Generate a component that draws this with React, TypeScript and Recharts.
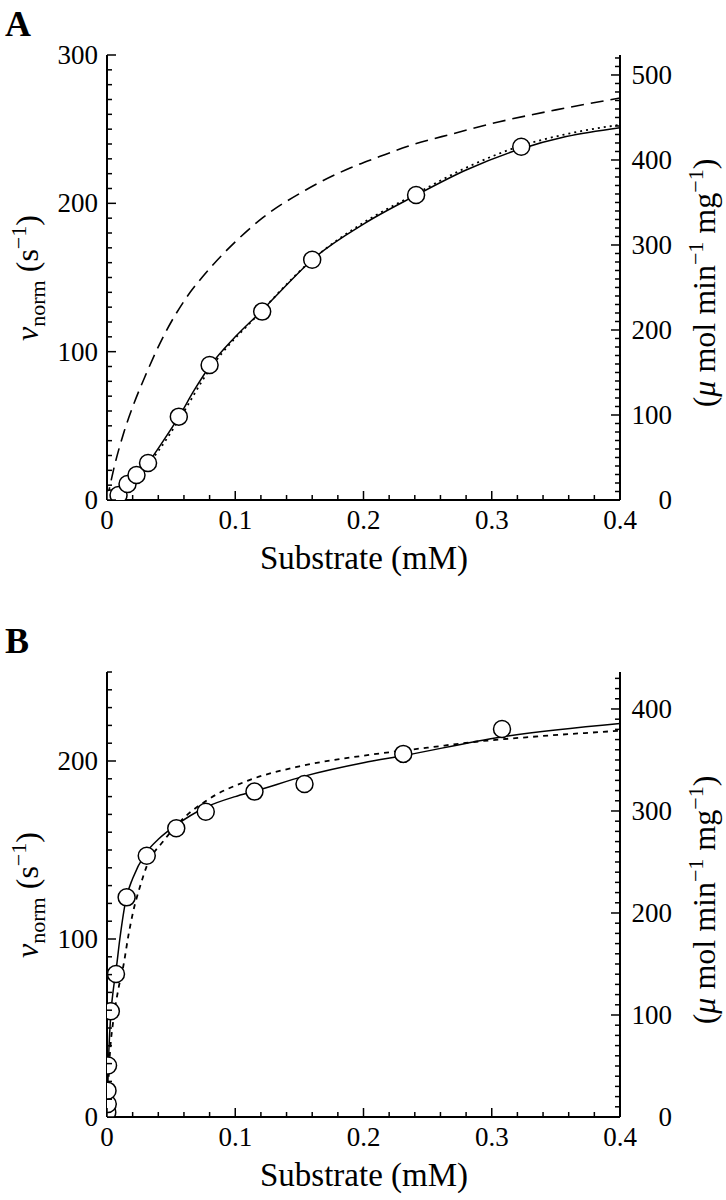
import React from 'react';
import {
  ComposedChart,
  Line,
  Scatter,
  XAxis,
  YAxis,
} from 'recharts';

// ---- panel A ----
const aPointX = [0.003, 0.009, 0.016, 0.023, 0.032, 0.056, 0.08, 0.121, 0.16, 0.241, 0.323];
const aPointY = [1, 3.4, 10.8, 16.9, 24.9, 56.2, 91, 127, 162, 205.6, 238.2];

const aSolidX = [0, 0.003, 0.009, 0.016, 0.024, 0.032, 0.044, 0.056, 0.068, 0.08, 0.1, 0.12, 0.14, 0.16, 0.2, 0.24, 0.28, 0.32, 0.358, 0.4];
const aSolidY = [0, 1, 3.5, 10, 17, 25, 40, 56, 74, 90, 110, 127, 145, 162, 186, 205, 222.5, 236, 245, 251];

const aDotX = [0, 0.02, 0.04, 0.056, 0.08, 0.12, 0.16, 0.2, 0.24, 0.28, 0.32, 0.36, 0.4];
const aDotY = [0, 13, 33, 54, 88, 127, 162, 187, 206, 224, 238, 247, 253];

const aDashX = [0, 0.005, 0.0133, 0.021, 0.03, 0.045, 0.06, 0.08, 0.1, 0.121, 0.155, 0.19, 0.2125, 0.2346, 0.27, 0.306, 0.35, 0.4];
const aDashY = [0, 20, 46, 65, 84, 112, 134, 156, 174, 190, 209, 224, 231.5, 238.5, 247, 255, 263, 271];

// ---- panel B ----
const bPointX = [0.0002, 0.0006, 0.0004, 0.0008, 0.003, 0.007, 0.0153, 0.031, 0.054, 0.077, 0.115, 0.154, 0.231, 0.308];
const bPointY = [2.6, 7.3, 14.8, 28.9, 59.4, 80.3, 123.4, 146.8, 162.2, 171.5, 182.8, 187.1, 204, 218];

const bSolidX = [0, 0.0003, 0.0008, 0.0015, 0.003, 0.005, 0.007, 0.01, 0.015, 0.02, 0.03, 0.04, 0.054, 0.077, 0.1, 0.115, 0.154, 0.2, 0.231, 0.308, 0.4];
const bSolidY = [0, 5, 22, 38, 58, 72, 82, 100, 123, 134, 148, 156, 164, 174, 180, 183, 191.5, 199, 203, 213.5, 221];

const bDotX = [0, 0.0023, 0.0047, 0.0089, 0.0128, 0.0167, 0.0206, 0.026, 0.031, 0.044, 0.057, 0.078, 0.11, 0.15, 0.2, 0.25, 0.29, 0.33, 0.4];
const bDotY = [0, 36, 53, 72, 85, 102, 116, 130, 141, 155, 166, 178, 189, 197, 203, 207.5, 211, 213.5, 217];

// axes
const xMajor = [0, 0.1, 0.2, 0.3, 0.4];
const aLeftMajor = [0, 100, 200, 300];
const aRightMajor = [0, 100, 200, 300, 400, 500];
const bLeftMajor = [0, 100, 200];
const bRightMajor = [0, 100, 200, 300, 400];
const UNIT_FACTOR = 1.745; // s^-1 -> umol min^-1 mg^-1

const FONT = 'Liberation Serif, Times New Roman, DejaVu Serif, serif';
const TICK_FONT = 27;
const MARGIN = 9;

const pairs = (xs: number[], ys: number[]) => xs.map((x, i) => ({ x, y: ys[i] }));

const steps = (max: number, step: number) => {
  const out: number[] = [];
  for (let i = 0; i * step <= max + 1e-9; i++) out.push(Math.round(i * step * 1000) / 1000);
  return out;
};

const isIn = (v: number, list: number[]) => list.some((m) => Math.abs(m - v) < 1e-6);

const fmtX = (v: number) => (v === 0 ? '0' : String(v));

function makeTick(side: 'left' | 'right' | 'bottom' | 'top', major: number[], fmt: (v: number) => string) {
  return (props: any) => {
    const { x, y, payload } = props;
    const v = payload.value;
    const big = isIn(v, major);
    const len = big ? 9 : 5;
    if (side === 'left') {
      const ax = x + MARGIN;
      return (
        <g>
          <line x1={ax} x2={ax + len} y1={y} y2={y} stroke="#000" strokeWidth={1.5} />
          {big && (
            <text x={x} y={y} dy={9} textAnchor="end" fontSize={TICK_FONT} fontFamily={FONT} fill="#000">
              {fmt(v)}
            </text>
          )}
        </g>
      );
    }
    if (side === 'right') {
      const ax = x - MARGIN;
      return (
        <g>
          <line x1={ax} x2={ax - len} y1={y} y2={y} stroke="#000" strokeWidth={1.5} />
          {big && (
            <text x={ax + 52} y={y} dy={9} textAnchor="end" fontSize={TICK_FONT} fontFamily={FONT} fill="#000">
              {fmt(v)}
            </text>
          )}
        </g>
      );
    }
    if (side === 'bottom') {
      const ay = y - MARGIN;
      return (
        <g>
          <line x1={x} x2={x} y1={ay} y2={ay - len} stroke="#000" strokeWidth={1.5} />
          {big && (
            <text x={x} y={ay + 29} textAnchor="middle" fontSize={TICK_FONT} fontFamily={FONT} fill="#000">
              {fmt(v)}
            </text>
          )}
        </g>
      );
    }
    const ay = y + MARGIN;
    return <line x1={x} x2={x} y1={ay} y2={ay + len} stroke="#000" strokeWidth={1.5} />;
  };
}

const Circle = (props: any) => {
  const { cx, cy } = props;
  return <circle cx={cx} cy={cy} r={8.5} fill="#fff" stroke="#000" strokeWidth={1.5} />;
};

interface PanelProps {
  top: number;
  points: { x: number; y: number }[];
  solid: { x: number; y: number }[];
  dotted: { x: number; y: number }[];
  dashed?: { x: number; y: number }[];
  leftMax: number;
  leftMajor: number[];
  rightMajor: number[];
  dotDash: string;
}

function Panel({ top, points, solid, dotted, dashed, leftMax, leftMajor, rightMajor, dotDash }: PanelProps) {
  const rightMax = leftMax * UNIT_FACTOR;
  return (
    <div style={{ position: 'absolute', left: 0, top }}>
      <ComposedChart width={726} height={560} margin={{ top: 55, right: 46, left: 47, bottom: 20 }}>
        <XAxis
          xAxisId="b"
          type="number"
          dataKey="x"
          domain={[0, 0.4]}
          ticks={steps(0.4, 0.02)}
          interval={0}
          tick={makeTick('bottom', xMajor, fmtX)}
          tickLine={false}
          tickSize={0}
          tickMargin={MARGIN}
          height={40}
          axisLine={{ stroke: '#000', strokeWidth: 2 }}
          allowDataOverflow
        />
        <XAxis
          xAxisId="t"
          orientation="top"
          type="number"
          dataKey="x"
          domain={[0, 0.4]}
          ticks={steps(0.4, 0.02)}
          interval={0}
          tick={makeTick('top', xMajor, fmtX)}
          tickLine={false}
          tickSize={0}
          tickMargin={MARGIN}
          height={0}
          axisLine={{ stroke: '#000', strokeWidth: 2 }}
          allowDataOverflow
        />
        <YAxis
          yAxisId="l"
          type="number"
          dataKey="y"
          domain={[0, leftMax]}
          ticks={steps(leftMax, 10)}
          interval={0}
          tick={makeTick('left', leftMajor, String)}
          tickLine={false}
          tickSize={0}
          tickMargin={MARGIN}
          width={60}
          axisLine={{ stroke: '#000', strokeWidth: 2 }}
          allowDataOverflow
        />
        <YAxis
          yAxisId="r"
          orientation="right"
          type="number"
          domain={[0, rightMax]}
          ticks={steps(rightMax, 10)}
          interval={0}
          tick={makeTick('right', rightMajor, String)}
          tickLine={false}
          tickSize={0}
          tickMargin={MARGIN}
          width={60}
          axisLine={{ stroke: '#000', strokeWidth: 2 }}
          allowDataOverflow
        />
        {dashed && (
          <Line
            xAxisId="b"
            yAxisId="l"
            data={dashed}
            dataKey="y"
            type="monotone"
            stroke="#000"
            strokeWidth={1.6}
            strokeDasharray="13 7"
            dot={false}
            isAnimationActive={false}
          />
        )}
        <Line
          xAxisId="b"
          yAxisId="l"
          data={dotted}
          dataKey="y"
          type="monotone"
          stroke="#000"
          strokeWidth={1.8}
          strokeDasharray={dotDash}
          dot={false}
          isAnimationActive={false}
        />
        <Line
          xAxisId="b"
          yAxisId="l"
          data={solid}
          dataKey="y"
          type="monotone"
          stroke="#000"
          strokeWidth={1.5}
          dot={false}
          isAnimationActive={false}
        />
        <Scatter
          xAxisId="b"
          yAxisId="l"
          data={points}
          dataKey="y"
          shape={Circle}
          isAnimationActive={false}
        />
      </ComposedChart>
    </div>
  );
}

function Titles({ top, letter }: { top: number; letter: string }) {
  return (
    <svg
      width={726}
      height={600}
      style={{ position: 'absolute', left: 0, top, pointerEvents: 'none' }}
      fontFamily={FONT}
    >
      <text x={5} y={36} fontSize={36} fontWeight="bold">
        {letter}
      </text>
      <text x={364} y={569} fontSize={33} textAnchor="middle">
        Substrate (mM)
      </text>
      <text transform="translate(38,278) rotate(-90)" fontSize={32} textAnchor="middle">
        <tspan fontStyle="italic">v</tspan>
        <tspan fontSize={22} dy={7}>norm</tspan>
        <tspan dy={-7}> (s</tspan>
        <tspan fontSize={22} dy={-12}>−1</tspan>
        <tspan dy={12}>)</tspan>
      </text>
      <text transform="translate(715,283) rotate(-90)" fontSize={32} textAnchor="middle">
        (<tspan fontStyle="italic">μ</tspan> mol min
        <tspan fontSize={22} dy={-12}>−1</tspan>
        <tspan dy={12}> mg</tspan>
        <tspan fontSize={22} dy={-12}>−1</tspan>
        <tspan dy={12}>)</tspan>
      </text>
    </svg>
  );
}

export default function App() {
  return (
    <div style={{ position: 'absolute', left: 0, top: 0, width: 726, height: 1200, background: '#fff', overflow: 'hidden' }}>
      <Panel
        top={0}
        points={pairs(aPointX, aPointY)}
        solid={pairs(aSolidX, aSolidY)}
        dotted={pairs(aDotX, aDotY)}
        dashed={pairs(aDashX, aDashY)}
        leftMax={300}
        leftMajor={aLeftMajor}
        rightMajor={aRightMajor}
        dotDash="2 4"
      />
      <Titles top={0} letter="A" />
      <Panel
        top={617}
        points={pairs(bPointX, bPointY)}
        solid={pairs(bSolidX, bSolidY)}
        dotted={pairs(bDotX, bDotY)}
        leftMax={250}
        leftMajor={bLeftMajor}
        rightMajor={bRightMajor}
        dotDash="5 5"
      />
      <Titles top={617} letter="B" />
    </div>
  );
}
